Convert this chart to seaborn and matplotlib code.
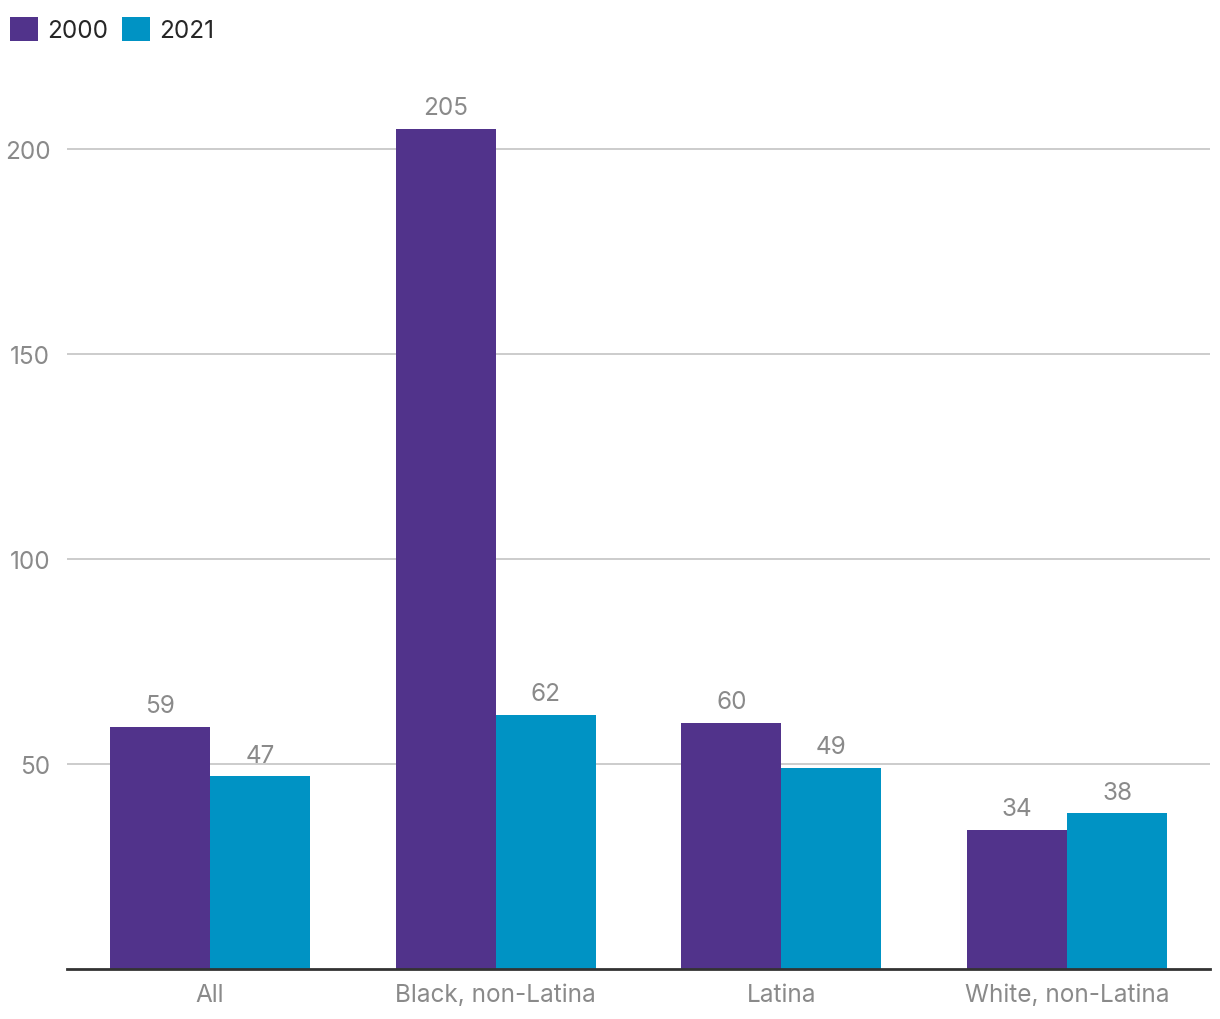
import pandas as pd
import matplotlib
matplotlib.use("Agg")
import matplotlib.pyplot as plt
import seaborn as sns
from matplotlib.patches import Patch

# data
groups = ["All", "Black, non-Latina", "Latina", "White, non-Latina"]
years = ["2000", "2021"]
vals_2000 = [59, 205, 60, 34]
vals_2021 = [47, 62, 49, 38]
yticks = [50, 100, 150, 200]

colors = {"2000": "#51338B", "2021": "#0093C4"}

df = pd.DataFrame({
    "group": groups * 2,
    "year": ["2000"] * len(groups) + ["2021"] * len(groups),
    "value": vals_2000 + vals_2021,
})

sns.set_theme(style="white")
plt.rcParams["font.family"] = ["Inter", "DejaVu Sans"]

fig = plt.figure(figsize=(12.2, 10.2), dpi=100)
ax = fig.add_axes([0.0549, 0.049, 0.9369, 0.884])

sns.barplot(data=df, x="group", y="value", hue="year", palette=colors,
            width=0.7, saturation=1, ax=ax, legend=False, linewidth=0)

# labels above bars
for cont in ax.containers:
    ax.bar_label(cont, fmt="%d", padding=7, fontsize=17.5, color="#8a8a8a")

ax.set_ylim(0, 220)
ax.set_xlim(-0.5, 3.5)
ax.set_yticks(yticks)
ax.yaxis.grid(True, color="#c4c4c4", linewidth=1.2)
ax.set_axisbelow(True)
ax.set_xlabel("")
ax.set_ylabel("")
for s in ["top", "right", "left"]:
    ax.spines[s].set_visible(False)
ax.spines["bottom"].set_color("#333333")
ax.spines["bottom"].set_linewidth(2)
ax.tick_params(axis="both", length=0, labelsize=17.5, labelcolor="#8a8a8a")
ax.tick_params(axis="x", pad=10)
ax.tick_params(axis="y", pad=12)

handles = [Patch(facecolor=colors[y], edgecolor="none", label=y) for y in years]
fig.legend(handles=handles, loc="upper left", bbox_to_anchor=(0.0, 0.992),
           ncol=2, frameon=False, fontsize=17.5, handlelength=1.15, handleheight=1.15,
           handletextpad=0.4, columnspacing=0.55, borderaxespad=0.0, borderpad=0.4)

fig.savefig("out.png", dpi=100)
